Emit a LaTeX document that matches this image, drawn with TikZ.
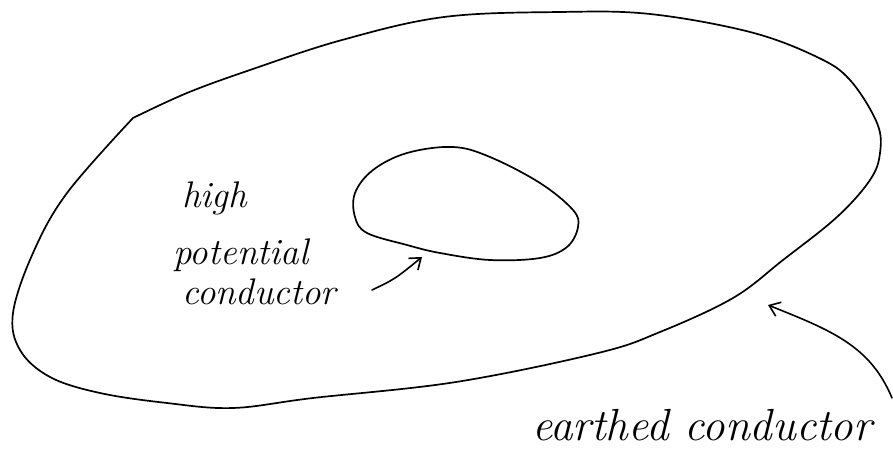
\documentclass[tikz,border=0pt]{standalone}
\usetikzlibrary{arrows.meta}
\tikzset{
  sketch/.style={line width=1.7pt, line join=round, line cap=round},
  pointer/.style={line width=1.6pt, line cap=round, -{Straight Barb[length=10pt,width=15pt]}},
  scrawl/.style={inner sep=0pt, anchor=base west, font=\fontsize{37}{40}\selectfont\itshape},
}
\begin{document}
\begin{tikzpicture}[x=1pt, y=-1pt]
    \useasboundingbox (0,0) rectangle (893,465);
    % earthed conductor, with its corner at the upper left
    \draw[sketch] plot[smooth, tension=0.6] coordinates {(133,118) (187,93) (250,70) (342,40)
        (444,17) (560,12) (650,14) (750,32) (817,57) (850,80) (877,123) (880,153) (870,180)
        (837,217) (783,260) (733,298) (660,332) (598,353) (456,382) (313,398) (233,408)
        (167,403) (100,393) (50,377) (20,350) (13,313) (33,253) (67,193) (133,118)};
    % high potential conductor
    \draw[sketch] plot[smooth cycle, tension=0.6] coordinates {(453,147) (490,157) (540,183)
        (573,210) (578,227) (567,247) (540,258) (490,260) (440,253) (407,245) (367,233)
        (355,217) (355,193) (373,170) (407,153)};
    \node[scrawl] (high) at (182,207) {high};
    \node[scrawl] (pot) at (173,264) {potential};
    \node[scrawl] (cond) at (182,304) {conductor};
    \node[scrawl, font=\fontsize{45}{50}\selectfont\itshape] (earth) at (532,440) {earthed conductor};
    \coordinate (innertip) at (422,257);
    \coordinate (outertip) at (768,305);
    \coordinate (condend) at (372,290);
    \coordinate (earthend) at (892,398);
    \draw[pointer] (condend) .. controls (395,279) .. (innertip);
    \draw[pointer] (earthend) .. controls (870,345) and (830,330) .. (outertip);
\end{tikzpicture}
\end{document}
